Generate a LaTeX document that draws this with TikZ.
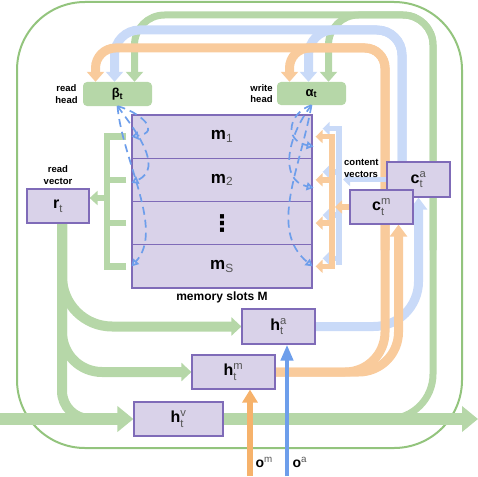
\documentclass[tikz,border=0pt]{standalone}
\usepackage{amsmath}
\usepackage{fontspec}
\setmainfont{Liberation Sans}
\newfontfamily\symfont{DejaVu Sans}
\usetikzlibrary{arrows.meta,positioning,calc}

\definecolor{flowgreen}{HTML}{B6D7A8}
\definecolor{flowblue}{HTML}{C9DAF8}
\definecolor{floworange}{HTML}{F9CB9C}
\definecolor{boxfill}{HTML}{D9D2E9}
\definecolor{boxline}{HTML}{7F6BB8}
\definecolor{framegreen}{HTML}{93C47D}
\definecolor{dashblue}{HTML}{6D9EEB}
\definecolor{inorange}{HTML}{F6B26B}
\definecolor{subgray}{HTML}{555555}

\newcommand{\vsym}[3]{\textbf{#1}$^{\text{\color{subgray}#3}}_{\text{\color{subgray}#2}}$}

\pgfdeclarelayer{flows}
\pgfsetlayers{flows,main}

\tikzset{
  slot/.style={draw=boxline, fill=boxfill, line width=1.2pt, font=\fontsize{16}{18}\selectfont},
  memrow/.style={slot, minimum width=180pt, minimum height=43.25pt, font=\fontsize{17}{20}\selectfont},
  headbox/.style={fill=flowgreen, rounded corners=4pt, minimum width=69pt, minimum height=24pt, font=\fontsize{13}{15}\selectfont\bfseries},
  note/.style={font=\fontsize{9.5}{11.5}\selectfont\bfseries, inner sep=0pt},
  mainflow/.style={draw=flowgreen, line width=12pt, -{Triangle[length=16pt,width=25pt]}},
  rvflow/.style={draw=flowgreen, line width=10pt},
  grflow/.style={draw=flowgreen, line width=7pt},
  blflow/.style={draw=flowblue, line width=9pt},
  orflow/.style={draw=floworange, line width=9pt},
  headtip/.style={-{Triangle[length=10pt,width=17pt]}},
  boxtip/.style={-{Triangle[length=10pt,width=18pt]}},
  rdbus/.style={draw=flowgreen, line width=6.5pt},
  ctblue/.style={draw=flowblue, line width=5.5pt},
  ctorange/.style={draw=floworange, line width=5.5pt},
  cttip/.style={-{Triangle[length=7pt,width=13pt]}},
  dashflow/.style={draw=dashblue, line width=1.7pt, dash pattern=on 8pt off 5pt, -{Triangle[open,length=7pt,width=8pt]}}
}

\begin{document}
\begin{tikzpicture}[x=1pt,y=-1pt]
\useasboundingbox (0,0) rectangle (478,476);

% boxes
\node[slot, minimum width=62pt, minimum height=34pt] (rt) at (58,206) {\vsym{r}{t}{}};
\node[slot, minimum width=73pt, minimum height=35pt] (ha) at (278.5,326.5) {\vsym{h}{t}{a}};
\node[slot, minimum width=83pt, minimum height=34pt] (hm) at (233.5,372) {\vsym{h}{t}{m}};
\node[slot, minimum width=89pt, minimum height=34pt] (hv) at (178.5,419) {\vsym{h}{t}{v}};
\node[slot, minimum width=63pt, minimum height=35pt] (ca) at (418.5,179.5) {\vsym{c}{t}{a}};
\node[slot, minimum width=63pt, minimum height=34pt] (cm) at (381.5,207) {\vsym{c}{t}{m}};

% memory
\node[memrow] (m1) at (222,136.6) {\textbf{m}$_{\text{\color{subgray}1}}$};
\node[memrow, below=-1.2pt of m1] (m2) {\textbf{m}$_{\text{\color{subgray}2}}$};
\node[memrow, below=-1.2pt of m2] (md) {{\symfont\bfseries\fontsize{23}{25}\selectfont ⋮}};
\node[memrow, below=-1.2pt of md] (mS) {\textbf{m}$_{\text{\color{subgray}S}}$};
\node[font=\fontsize{12}{14}\selectfont\bfseries, below=0pt of mS] (mlab) {memory slots M};

% heads
\node[headbox] (beta) at (117.5,94) {β\textsubscript{t}};
\node[headbox, minimum height=23pt] (alpha) at (311.5,93.5) {α\textsubscript{t}};

\node[note, align=center, left=5pt of beta] (rdlab) {read\\head};
\node[note, align=center, left=4pt of alpha] (wrlab) {write\\head};
\node[note, align=center, above=4pt of rt] (rvlab) {read\\vector};
\node[note, align=left, anchor=west] (cvlab) at (344,168.5) {content\\vectors};
\node[anchor=west, font=\fontsize{14}{16}\selectfont] (om) at (252,464) {\vsym{o}{}{m}};
\node[anchor=west, font=\fontsize{14}{16}\selectfont] (oa) at (289,464) {\vsym{o}{}{a}};

\coordinate (gb) at ([xshift=17pt]beta.north);
\coordinate (bb) at ([xshift=-3pt]beta.north);
\coordinate (ob) at ([xshift=-22pt]beta.north);
\coordinate (ga) at ([xshift=17pt]alpha.north);
\coordinate (ba) at ([xshift=-3pt]alpha.north);
\coordinate (oha) at ([xshift=-22pt]alpha.north);
\coordinate (gtrk) at (0,15);
\coordinate (btrk) at (0,30);
\coordinate (otrk) at (0,48);
\coordinate (gUp) at (433,250);
\coordinate (orUp) at (385,250);
\coordinate (caOut) at ([xshift=-16.5pt]ca.north);
\coordinate (cmIn) at ([xshift=17pt]cm.south);
\coordinate (gStart) at (340,419);
\coordinate (vin) at (0,419);
\coordinate (vout) at (478,419);
\coordinate (merge) at (110,419);
\coordinate (rtOut) at ([xshift=4pt]rt.south);
\coordinate (rtIn) at ([yshift=8pt]rt.east);
\coordinate (rbar) at (107,0);
\coordinate (obar) at (332,0);
\coordinate (bbar) at (339,0);
\coordinate (omin) at (250,476);
\coordinate (oain) at (287,476);

\begin{pgfonlayer}{flows}
\draw[framegreen, line width=2pt, rounded corners=68pt] (17,2) rectangle (462,448);

% green
\draw[mainflow] (vin) -- (hv.west);
\draw[mainflow] (hv.east) -- (vout);
\draw[grflow, rounded corners=45pt] (gStart) -| (gUp);
\draw[grflow, headtip, rounded corners=30pt] (gUp) |- (gb |- gtrk) -- (gb);
\draw[grflow, headtip, rounded corners=30pt] (gUp) |- (ga |- gtrk) -- (ga);
\draw[rvflow, boxtip, rounded corners=50pt] (rtOut) |- (ha.west);
\draw[rvflow, boxtip, rounded corners=40pt] (rtOut) |- (hm.west);
\draw[rvflow, rounded corners=28pt] (rtOut) |- (merge);

% blue
\draw[blflow, -{Triangle[length=12pt,width=17pt]}, rounded corners=45pt] (ha.east) -| (ca.south);
\draw[blflow, headtip, rounded corners=25pt] (caOut) |- (bb |- btrk) -- (bb);
\draw[blflow, headtip, rounded corners=25pt] (caOut) |- (ba |- btrk) -- (ba);

% orange
\draw[orflow, rounded corners=40pt] (hm.east) -| (orUp);
\draw[orflow, -{Triangle[length=12pt,width=17pt]}, rounded corners=40pt] (hm.east) -| (cmIn);
\draw[orflow, headtip, rounded corners=20pt] (orUp) |- (ob |- otrk) -- (ob);
\draw[orflow, headtip, rounded corners=20pt] (orUp) |- (oha |- otrk) -- (oha);

% content vectors
\draw[ctblue, line cap=rect] ($(m1.east -| bbar)+(0,-8)$) -- ($(mS.east -| bbar)+(0,-4)$);
\foreach \r in {m1,m2,md,mS}
  \draw[ctblue, cttip] ($(\r.east -| bbar)+(0,-8)$) -- ($(\r.east)+(10,-8)$);
\draw[ctblue, cttip] (ca.west) -- ($(ca.west -| bbar)+(4,0)$);
\draw[ctorange, line cap=rect] (m1.east -| obar) -- (mS.east -| obar);
\foreach \r in {m1,m2,md,mS}
  \draw[ctorange, cttip] (\r.east -| obar) -- ($(\r.east)+(3,0)$);
\draw[ctorange, cttip] (cm.west) -- ($(cm.west -| obar)+(3,0)$);

% read vector bus
\draw[rdbus, line cap=rect] (m1.west -| rbar) -- (mS.west -| rbar);
\foreach \r in {m1,m2,md,mS}
  \draw[rdbus] ($(\r.west)+(-5,0)$) -- (\r.west -| rbar);
\draw[rdbus, -{Triangle[length=8pt,width=14pt]}] (rtIn -| rbar) -- (rtIn);

% observations
\draw[draw=inorange, line width=6pt, -{Triangle[length=13pt,width=15pt]}] (omin) -- (omin |- hm.south);
\draw[draw=dashblue, line width=4.5pt, -{Triangle[length=16pt,width=12pt]}] (oain) -- (oain |- ha.south);
\end{pgfonlayer}

% addressing
\draw[dashflow] (beta.south) .. controls (140,112) and (162,132) .. (m1.west);
\draw[dashflow] (beta.south) .. controls (135,130) and (165,168) .. ($(m2.west)+(0,3)$);
\draw[dashflow] (beta.south) .. controls (122,160) and (165,230) .. (mS.west);
\draw[dashflow] (alpha.south) .. controls (290,112) and (282,140) .. ($(m1.east)+(1,10)$);
\draw[dashflow] (alpha.south) .. controls (288,135) and (278,180) .. ($(m2.east)+(1,8)$);
\draw[dashflow] (alpha.south) .. controls (300,170) and (268,230) .. (mS.east);
\end{tikzpicture}
\end{document}
